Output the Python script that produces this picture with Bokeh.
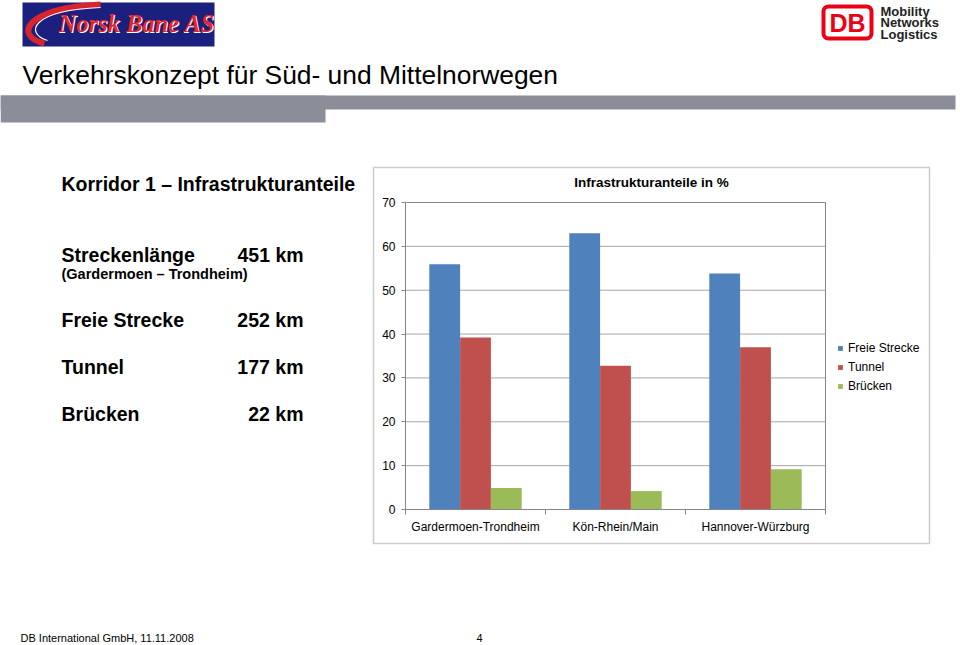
from bokeh.plotting import figure
from bokeh.models import (Range1d, FixedTicker, Label, BoxAnnotation, Legend,
                          LegendItem, ColumnDataSource)
from bokeh.embed import file_html
from bokeh.resources import INLINE

# ---------------- data ----------------
categories = ["Gardermoen-Trondheim", "Kön-Rhein/Main", "Hannover-Würzburg"]
series_names = ["Freie Strecke", "Tunnel", "Brücken"]
freie_strecke = [55.9, 63.0, 53.8]
tunnel = [39.2, 32.8, 37.0]
bruecken = [4.9, 4.2, 9.2]
y_ticks = [0, 10, 20, 30, 40, 50, 60, 70]
series_colors = ["#4F81BD", "#C0504D", "#9BBB59"]

side_labels = ["Freie Strecke", "Tunnel", "Brücken"]
side_values = ["252 km", "177 km", "22 km"]

# ---------------- layout ----------------
W, H = 960, 645
PAGE = 0
FL, FR, FT, FB = 405, 825, 202, 509   # page coords of the chart's plot area
FONT = "Liberation Sans"
n_cat = len(categories)
y_max = y_ticks[-1]

# the figure's frame is the whole canvas; data ranges chosen so that the
# chart's plot area lands at FL..FR / FT..FB
px_x = (FR - FL) / n_cat
px_y = (FB - FT) / y_max
x_range = Range1d((PAGE - FL) / px_x, (PAGE + W - FL) / px_x)
y_range = Range1d((FB - (PAGE + H)) / px_y, (FB - PAGE) / px_y)


def dx(X):
    return (X - FL) / px_x


def dy(Y):
    return (FB - Y) / px_y


p = figure(width=W, height=H, output_backend="svg", toolbar_location=None,
           x_range=x_range, y_range=y_range, min_border=0,
           min_border_left=0, min_border_right=0, min_border_top=0, min_border_bottom=0)
p.background_fill_color = "white"
p.border_fill_color = "white"
p.outline_line_color = None
p.xgrid.visible = False
p.ygrid.visible = False


def box(X0, Y0, X1, Y1, fill=None, line=None, lw=1, radius=0, level="underlay"):
    p.add_layout(BoxAnnotation(left=X0 - PAGE, right=X1 - PAGE,
                               top=(PAGE + H) - Y0, bottom=(PAGE + H) - Y1,
                               left_units="screen", right_units="screen",
                               top_units="screen", bottom_units="screen",
                               fill_color=fill if fill else "white",
                               fill_alpha=1 if fill else 0,
                               line_color=line, line_alpha=1, line_width=lw,
                               border_radius=radius, level=level))


def lab(text, X, Yc, size, style="normal", color="black", align="left",
        font=FONT, angle=0):
    """Label whose vertical middle sits at page y = Yc."""
    p.add_layout(Label(x=X - PAGE, y=(PAGE + H) - Yc, x_units="screen", y_units="screen",
                       text=text, text_font=font, text_font_size=f"{size}px",
                       text_font_style=style, text_color=color, text_align=align,
                       text_baseline="middle", angle=angle))


# background decorations (underlay)
box(0, 95, 955, 109, fill="#8b8e99")
box(0, 95, 325, 122, fill="#8b8e99")
box(22, 2, 214, 46, fill="#1b1f7e")
box(373, 167, 929, 543, fill=None, line="#cccccc", lw=1.5)

# gridlines and plot-area border
p.segment(x0=0, x1=n_cat, y0=y_ticks[1:-1], y1=y_ticks[1:-1],
          line_color="#a6a6a6", line_width=1)
p.segment(x0=[0, n_cat], x1=[n_cat, n_cat], y0=[y_max, 0], y1=[y_max, y_max],
          line_color="#868686", line_width=1)

offsets = [-0.22, 0.0, 0.22]
renderers = []
for vals, col, off in zip([freie_strecke, tunnel, bruecken], series_colors, offsets):
    src = ColumnDataSource(dict(x=[i + 0.5 + off for i in range(n_cat)], top=vals))
    r = p.vbar(x="x", top="top", bottom=0, width=0.22, source=src,
               fill_color=col, line_color=None)
    renderers.append(r)

# axes (fixed inside the frame)
xa = p.xaxis[0]
xa.fixed_location = 0
xa.bounds = (0, n_cat)
xa.ticker = FixedTicker(ticks=[i + 0.5 for i in range(n_cat)],
                        minor_ticks=list(range(n_cat + 1)))
xa.major_label_overrides = {i + 0.5: c for i, c in enumerate(categories)}
xa.major_tick_line_color = None
xa.minor_tick_line_color = "#868686"
xa.minor_tick_in = 0
xa.minor_tick_out = 5
xa.axis_line_color = "#868686"
xa.major_label_text_font = FONT
xa.major_label_text_font_size = "12px"
xa.major_label_text_color = "black"
xa.major_label_standoff = 4

ya = p.yaxis[0]
ya.fixed_location = 0
ya.bounds = (0, y_max)
ya.ticker = FixedTicker(ticks=y_ticks)
ya.minor_tick_line_color = None
ya.major_tick_line_color = "#868686"
ya.major_tick_in = 0
ya.major_tick_out = 4
ya.axis_line_color = "#868686"
ya.major_label_text_font = FONT
ya.major_label_text_font_size = "12px"
ya.major_label_text_color = "black"
ya.major_label_standoff = 6

# chart title
lab("Infrastrukturanteile in %", 651, 182, 13.5, style="bold", align="center")

# legend
legend = Legend(items=[LegendItem(label=n, renderers=[r]) for n, r in zip(series_names, renderers)],
                location=(837 - PAGE, (PAGE + H) - 395), orientation="vertical",
                glyph_width=6, glyph_height=6, label_standoff=5, label_height=18,
                spacing=1, padding=0, margin=0, border_line_color=None,
                background_fill_alpha=0, label_text_font=FONT,
                label_text_font_size="12px", label_text_color="black")
p.add_layout(legend)

# slide title
lab("Verkehrskonzept für Süd- und Mittelnorwegen", 22, 74, 26.4)

# Norsk Bane logo: swoosh + lettering
p.bezier(x0=dx(44), y0=dy(43), cx0=dx(14), cy0=dy(36), cx1=dx(22), cy1=dy(8),
         x1=dx(100), y1=dy(4), line_color="#d9232d", line_width=6)
p.bezier(x0=dx(47), y0=dy(40), cx0=dx(24), cy0=dy(33), cx1=dx(30), cy1=dy(10),
         x1=dx(100), y1=dy(7), line_color="white", line_width=1.2)
lab("Norsk Bane AS", 59, 24, 24.5, style="bold italic", color="white", font="Liberation Serif")
lab("Norsk Bane AS", 58, 23, 24.5, style="bold italic", color="#e3262e", font="Liberation Serif")

# DB logo
box(823, 6, 871, 38, fill="white", line="#EC0016", lw=4, radius=5, level="annotation")
lab("DB", 847, 22.5, 25, style="bold", color="#EC0016", align="center")
lab("Mobility", 880, 10.5, 13, style="bold", color="#222222")
lab("Networks", 880, 22, 13, style="bold", color="#222222")
lab("Logistics", 880, 33.5, 13, style="bold", color="#222222")

# left text block
lab("Korridor 1 – Infrastrukturanteile", 61, 183, 19.5, style="bold")
lab("Streckenlänge", 61, 254.5, 19.5, style="bold")
lab("451 km", 237, 254.5, 19.5, style="bold")
lab("(Gardermoen – Trondheim)", 61, 273, 14.5, style="bold")
for t, v, yy in zip(side_labels, side_values, [319, 366, 413]):
    lab(t, 61, yy, 19.5, style="bold")
    lab(v, 303, yy, 19.5, style="bold", align="right")

# footer
lab("DB International GmbH, 11.11.2008", 20, 637, 11)
lab("4", 476, 637, 11)

open("out.html", "w").write(file_html(p, INLINE))
